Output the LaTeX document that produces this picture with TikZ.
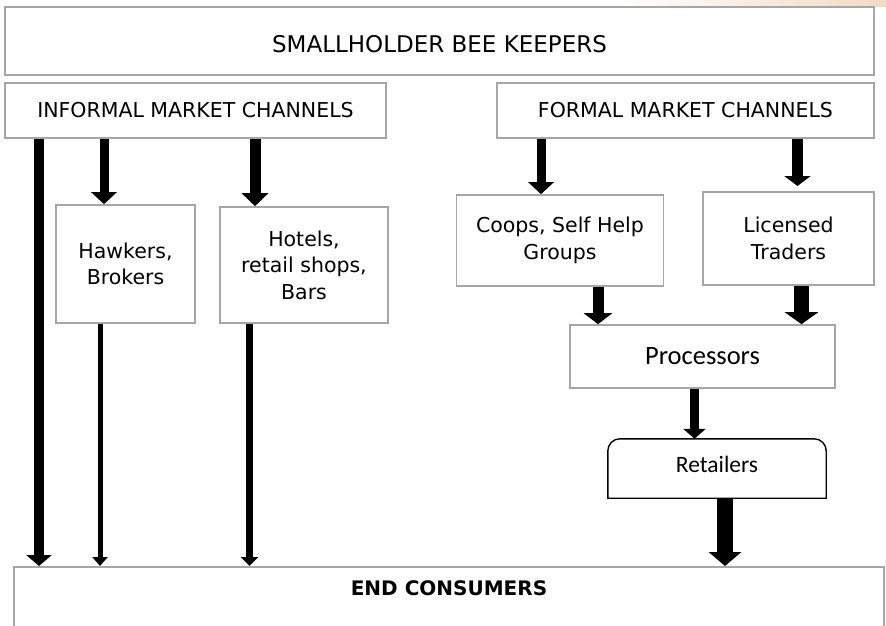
\documentclass[tikz,border=0pt]{standalone}
\usepackage{fontspec}
\setmainfont{DejaVu Sans}
\newfontfamily\calib{Carlito}
\usetikzlibrary{arrows.meta}

\definecolor{edgegray}{HTML}{A6A6A6}
\definecolor{peach}{HTML}{F2D9C4}

\tikzset{
    box/.style={draw=edgegray, line width=1.6pt, fill=white, inner sep=0pt, align=center},
    % thick block arrows: shaft width, head width, head length
    flow/.style n args={3}{line width=#1, -{Triangle[width=#2, length=#3]}},
}

\begin{document}
\begin{tikzpicture}[x=1pt, y=-1pt, font=\fontsize{20.5}{26.5}\selectfont]
    \clip (0,0) rectangle (886,625);
    \fill[left color=white, right color=peach] (620,0) rectangle (886,6);

    % boxes
    \node[box, minimum width=869, minimum height=68, text height=23pt, text depth=0pt, font=\fontsize{23}{26}\selectfont] (keepers) at (439.5,41) {SMALLHOLDER BEE KEEPERS};
    \node[box, minimum width=381, minimum height=55] (informal) at (195.5,110.5) {INFORMAL MARKET CHANNELS};
    \node[box, minimum width=377, minimum height=55] (formal) at (685.5,110.5) {FORMAL MARKET CHANNELS};

    \node[box, minimum width=139, minimum height=118] (hawkers) at (125.5,264) {Hawkers,\\Brokers};
    \node[box, minimum width=168, minimum height=116] (hotels) at (304,265) {Hotels,\\retail shops,\\Bars};
    \node[box, minimum width=207, minimum height=91] (coops) at (560,240.5) {Coops, Self Help\\Groups};
    \node[box, minimum width=171, minimum height=93] (licensed) at (788.5,238.5) {Licensed\\Traders};
    \node[box, minimum width=265, minimum height=63, font=\calib\fontsize{26.5}{30}\selectfont] (processors) at (702.5,356.5) {Processors};

    \node[minimum width=218, minimum height=59, inner sep=0pt, text height=8pt, text depth=0pt, font=\calib\fontsize{23.5}{26}\selectfont] (retailers) at (717,468.5) {Retailers};
    \draw[line width=1.4pt] (retailers.south west) [rounded corners=12pt] -- (retailers.north west) -- (retailers.north east) [sharp corners] -- (retailers.south east) -- cycle;

    \node[box, anchor=north, minimum width=870, inner ysep=14pt, text height=15pt, text depth=50pt, font=\bfseries\fontsize{20}{24}\selectfont] (consumers) at (449,566) {END CONSUMERS};

    % informal channels
    \draw[flow={10pt}{25pt}{11pt}] (39,0 |- informal.south) -- (39,0 |- consumers.north);
    \draw[flow={9pt}{25pt}{12pt}] (104,0 |- informal.south) -- (104,0 |- hawkers.north);
    \draw[flow={11pt}{26pt}{13pt}] (255,0 |- informal.south) -- (255,0 |- hotels.north);
    \draw[flow={5pt}{15pt}{9pt}] (100,0 |- hawkers.south) -- (100,0 |- consumers.north);
    \draw[flow={7pt}{17pt}{9pt}] (249.5,0 |- hotels.south) -- (249.5,0 |- consumers.north);

    % formal channels
    \draw[flow={9pt}{25pt}{12pt}] (541,0 |- formal.south) -- (541,0 |- coops.north);
    \draw[flow={11pt}{26pt}{10pt}] (797.5,0 |- formal.south) -- (797.5,186);
    \draw[flow={11pt}{28pt}{11pt}] (598,0 |- coops.south) -- (598,0 |- processors.north);
    \draw[flow={15pt}{33pt}{12pt}] (801.5,0 |- licensed.south) -- (801.5,0 |- processors.north);
    \draw[flow={9pt}{22pt}{10pt}] (694.5,0 |- processors.south) -- (694.5,0 |- retailers.north);
    \draw[flow={16pt}{32pt}{14pt}] (725,0 |- retailers.south) -- (725,0 |- consumers.north);
\end{tikzpicture}
\end{document}
